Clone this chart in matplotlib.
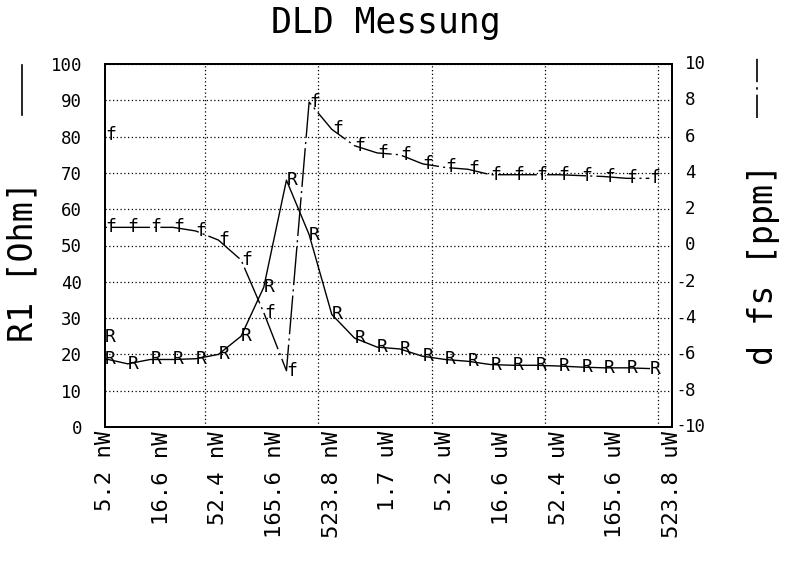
import matplotlib
matplotlib.use("Agg")
import matplotlib.pyplot as plt
from matplotlib.lines import Line2D

plt.rcParams["font.family"] = "DejaVu Sans Mono"
plt.rcParams["axes.unicode_minus"] = False

# drive level in dBm (first point measured twice)
x_dbm = [-52.8, -52.8, -50.8, -48.8, -46.8, -44.8, -42.8, -40.8, -38.8, -36.8,
         -34.8, -32.8, -30.8, -28.8, -26.8, -24.8, -22.8, -20.8, -18.8, -16.8,
         -14.8, -12.8, -10.8, -8.8, -6.8, -4.8]

# R1 in Ohm (left axis)
r1 = [24.8, 18.8, 17.4, 18.6, 18.6, 18.8, 20.0, 25.0, 38.5, 68.0,
      53.0, 31.0, 24.5, 22.0, 21.5, 19.5, 18.6, 18.1, 17.2, 17.0,
      17.0, 16.8, 16.5, 16.3, 16.3, 16.1]

# d fs in ppm (right axis)
dfs = [6.1, 1.0, 1.0, 1.0, 1.0, 0.8, 0.3, -0.8, -3.7, -6.9,
       7.9, 6.4, 5.5, 5.1, 5.0, 4.5, 4.3, 4.2, 3.9, 3.9,
       3.9, 3.9, 3.85, 3.8, 3.7, 3.7]

x_ticks = [-52.8, -47.8, -42.8, -37.8, -32.8, -27.8, -22.8, -17.8, -12.8, -7.8, -2.8]
x_labels = ["5.2 nW", "16.6 nW", "52.4 nW", "165.6 nW", "523.8 nW",
            "1.7 uW", "5.2 uW", "16.6 uW", "52.4 uW", "165.6 uW", "523.8 uW"]
x_grid = [-44, -34, -24, -14, -4]
r_ticks = list(range(0, 101, 10))
f_ticks = list(range(-10, 11, 2))

fig = plt.figure(figsize=(7.85, 5.65), dpi=100)
ax = fig.add_axes([105 / 785, 1 - 427 / 565, 567 / 785, 363 / 565])
ax.set_xlim(-52.8, -2.8)
ax.set_ylim(0, 100)

ax.set_xticks(x_ticks, x_labels)
ax.set_xticks(x_grid, minor=True)
ax.set_yticks(r_ticks)
ax.tick_params(axis="x", which="both", length=0, pad=3, labelrotation=90, labelsize=16)
ax.tick_params(axis="y", length=0, pad=16.5, labelsize=12.5)
ax.xaxis.grid(True, which="minor", color="k", linestyle=(0, (1, 2)), linewidth=0.9)
ax.yaxis.grid(True, which="major", color="k", linestyle=(0, (1, 2)), linewidth=0.9)
for s in ax.spines.values():
    s.set_linewidth(1.4)

ax.plot(x_dbm, r1, color="k", linewidth=1.0)
for x, y in zip(x_dbm, r1):
    ax.text(x, y, "R", ha="left", va="center", fontsize=13)

ax2 = ax.twinx()
ax2.set_ylim(-10, 10)
ax2.set_yticks(f_ticks)
ax2.tick_params(axis="y", length=0, labelright=False)
for s in ax2.spines.values():
    s.set_linewidth(1.4)

ax2.plot(x_dbm, dfs, color="k", linewidth=1.0, linestyle=(0, (28, 3, 1.5, 3)))
for x, y in zip(x_dbm, dfs):
    ax2.text(x, y, "f", ha="left", va="center", fontsize=13)

# right tick labels, digits aligned with the minus sign hanging left
for v in f_ticks:
    ax2.annotate(str(abs(v)), xy=(1, v), xycoords=("axes fraction", "data"),
                 xytext=(9.5, 0), textcoords="offset points",
                 ha="left", va="center", fontsize=12.5)
    if v < 0:
        ax2.annotate("-", xy=(1, v), xycoords=("axes fraction", "data"),
                     xytext=(9.5, 1 if v == -10 else 0), textcoords="offset points",
                     ha="right", va="center", fontsize=11)

fig.text(386 / 785, 1 - 33 / 565, "DLD Messung", ha="center", va="baseline", fontsize=25)

fig.text(23 / 785, 1 - 342 / 565, "R1 [Ohm]", rotation=90, ha="center", va="bottom", fontsize=24)
fig.add_artist(Line2D([22 / 785, 22 / 785], [1 - 115 / 565, 1 - 65 / 565],
                      transform=fig.transFigure, color="k", linewidth=1.2))

fig.text(764 / 785, 1 - 365 / 565, "d fs [ppm]", rotation=90, ha="center", va="bottom", fontsize=24)
fig.add_artist(Line2D([757 / 785, 757 / 785], [1 - 118 / 565, 1 - 58 / 565],
                      transform=fig.transFigure, color="k", linewidth=1.2,
                      linestyle=(0, (14, 3, 1.5, 3))))

fig.savefig("out.png", dpi=100)
